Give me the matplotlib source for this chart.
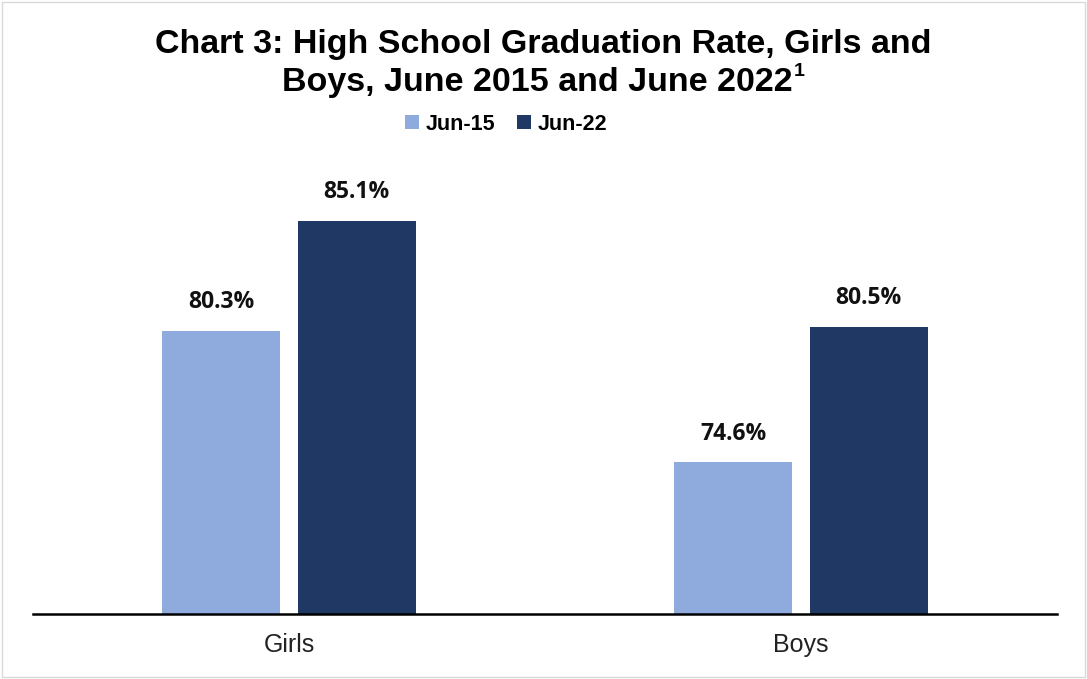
import matplotlib
matplotlib.use('Agg')
import matplotlib.pyplot as plt
import numpy as np
from matplotlib.patches import Rectangle

# chart data
categories = ['Girls', 'Boys']
series_names = ['Jun-15', 'Jun-22']
jun15 = [80.3, 74.6]
jun22 = [85.1, 80.5]

colors = ['#8FAADC', '#203864']

fig = plt.figure(figsize=(10.87, 6.79), dpi=100)
ax = fig.add_axes([33 / 1087, 65 / 679, 1024 / 1087, 506 / 679])

x = np.arange(len(categories))
width = 0.23
offset = 0.1325

bars1 = ax.bar(x - offset, jun15, width, color=colors[0], label=series_names[0])
bars2 = ax.bar(x + offset, jun22, width, color=colors[1], label=series_names[1])

for bars, vals in ((bars1, jun15), (bars2, jun22)):
    for b, v in zip(bars, vals):
        ax.annotate(f'{v:.1f}%', (b.get_x() + b.get_width() / 2, v),
                    xytext=(0, 12), textcoords='offset points',
                    ha='center', va='bottom', fontsize=16.5, fontweight='bold',
                    family='Open Sans', color='#111111')

ax.set_xlim(-0.5, 1.5)
ax.set_ylim(68, 90)
ax.set_xticks(x)
ax.set_xticklabels(categories, fontsize=18, family='Liberation Sans', color='#222222')
ax.tick_params(axis='x', length=0, pad=14)
ax.set_yticks([])
for s in ['top', 'right', 'left']:
    ax.spines[s].set_visible(False)
ax.spines['bottom'].set_linewidth(1.8)
ax.spines['bottom'].set_color('black')

# title (two lines, superscript footnote marker placed after line 2)
title_kw = dict(fontsize=24.5, fontweight='bold', family='Liberation Sans')
fig.text(0.5, 1 - 45 / 679, 'Chart 3: High School Graduation Rate, Girls and',
         ha='center', va='center', **title_kw)
t2 = fig.text(0.5 - 6 / 1087, 1 - 82 / 679, 'Boys, June 2015 and June 2022',
              ha='center', va='center', **title_kw)
fig.canvas.draw()
bb = t2.get_window_extent().transformed(fig.transFigure.inverted())
fig.text(bb.x1 + 1 / 1087, 1 - 72 / 679, '1', ha='left', va='center',
         fontsize=14, fontweight='bold', family='Liberation Sans')

# legend
fig.legend(handles=[bars1, bars2], labels=series_names, loc='center',
           bbox_to_anchor=(506 / 1087, 1 - 124 / 679), ncol=2, frameon=False,
           prop={'family': 'Liberation Sans', 'weight': 'bold', 'size': 15.5},
           handlelength=0.65, handleheight=0.65, handletextpad=0.3, columnspacing=1.0)

# chart border
fig.patches.append(Rectangle((0.002, 0.003), 0.996, 0.994, transform=fig.transFigure,
                             fill=False, edgecolor='#D9D9D9', linewidth=1))

fig.savefig('out.png', dpi=100)
